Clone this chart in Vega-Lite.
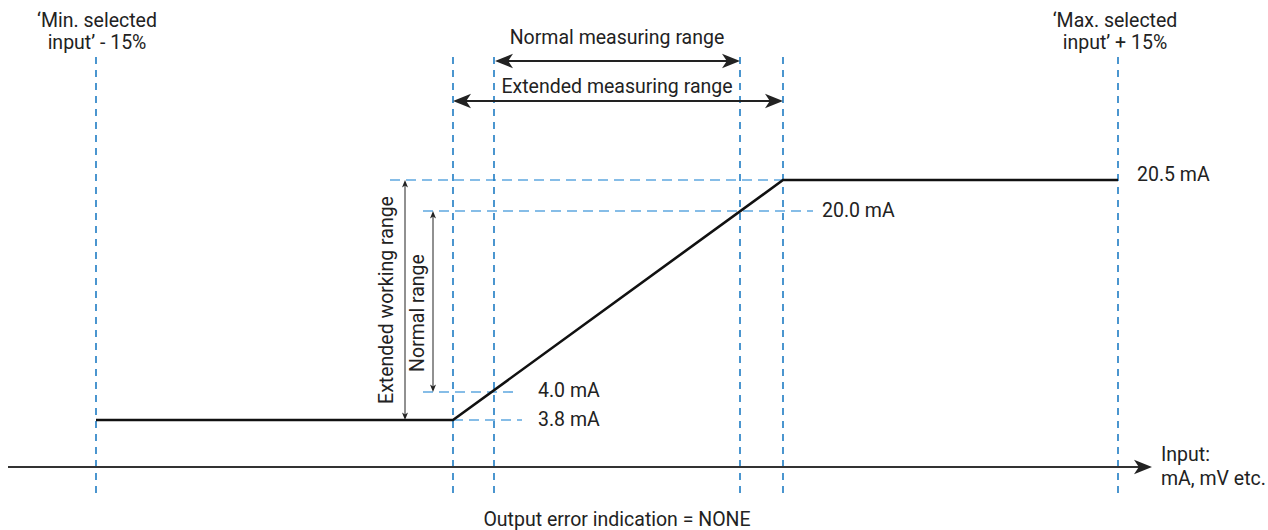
{
  "$schema": "https://vega.github.io/schema/vega-lite/v6.json",
  "width": 1268,
  "height": 530,
  "autosize": {"type": "fit", "contains": "padding"},
  "padding": 0,
  "background": "white",
  "config": {"view": {"stroke": null}},
  "datasets": {
    "vlines": [
      {"x": 96, "y": 57, "y2": 497},
      {"x": 453, "y": 57, "y2": 497},
      {"x": 494, "y": 57, "y2": 497},
      {"x": 740, "y": 57, "y2": 497},
      {"x": 783, "y": 57, "y2": 497},
      {"x": 1118, "y": 57, "y2": 497}
    ],
    "hlines": [
      {"x": 390, "x2": 783, "y": 180},
      {"x": 423, "x2": 813, "y": 211},
      {"x": 423, "x2": 518, "y": 392},
      {"x": 453, "x2": 522, "y": 420}
    ],
    "curve": [
      {"i": 1, "x": 96, "y": 420},
      {"i": 2, "x": 453, "y": 420},
      {"i": 3, "x": 783, "y": 180},
      {"i": 4, "x": 1118, "y": 180}
    ],
    "segments": [
      {"kind": "axis", "x": 8, "x2": 1140, "y": 467, "y2": 467},
      {"kind": "measure", "x": 498, "x2": 735, "y": 61, "y2": 61},
      {"kind": "measure", "x": 457, "x2": 778, "y": 101, "y2": 101},
      {"kind": "range", "x": 405, "x2": 405, "y": 184, "y2": 416},
      {"kind": "range", "x": 433, "x2": 433, "y": 215, "y2": 388}
    ],
    "heads": [
      {"kind": "big", "dir": "right", "x": 1152, "y": 467},
      {"kind": "big", "dir": "left", "x": 495, "y": 61},
      {"kind": "big", "dir": "right", "x": 740, "y": 61},
      {"kind": "big", "dir": "left", "x": 453, "y": 101},
      {"kind": "big", "dir": "right", "x": 783, "y": 101},
      {"kind": "small", "dir": "up", "x": 405, "y": 180},
      {"kind": "small", "dir": "down", "x": 405, "y": 420},
      {"kind": "small", "dir": "up", "x": 433, "y": 211},
      {"kind": "small", "dir": "down", "x": 433, "y": 392}
    ],
    "labels": [
      {"kind": "center", "x": 97, "y": 21, "text": "‘Min. selected"},
      {"kind": "center", "x": 97, "y": 43, "text": "input’ - 15%"},
      {"kind": "center", "x": 1115, "y": 21, "text": "‘Max. selected"},
      {"kind": "center", "x": 1115, "y": 43, "text": "input’ + 15%"},
      {"kind": "center", "x": 617, "y": 38, "text": "Normal measuring range"},
      {"kind": "center", "x": 617, "y": 87, "text": "Extended measuring range"},
      {"kind": "center", "x": 617, "y": 520, "text": "Output error indication = NONE"},
      {"kind": "left", "x": 1137, "y": 175, "text": "20.5 mA"},
      {"kind": "left", "x": 822, "y": 211, "text": "20.0 mA"},
      {"kind": "left", "x": 538, "y": 391, "text": "4.0 mA"},
      {"kind": "left", "x": 538, "y": 420, "text": "3.8 mA"},
      {"kind": "left", "x": 1161, "y": 455, "text": "Input:"},
      {"kind": "left", "x": 1161, "y": 479, "text": "mA, mV etc."},
      {"kind": "vertical", "x": 387, "y": 300, "text": "Extended working range"},
      {"kind": "vertical", "x": 418, "y": 313, "text": "Normal range"}
    ]
  },
  "encoding": {
    "x": {"field": "x", "type": "quantitative", "scale": {"domain": [0, 1268], "nice": false, "zero": false}, "axis": null},
    "y": {"field": "y", "type": "quantitative", "scale": {"domain": [0, 530], "nice": false, "zero": false, "reverse": true}, "axis": null}
  },
  "layer": [
    {
      "data": {"name": "hlines"},
      "mark": {"type": "rule", "color": "#5fa8e0", "strokeWidth": 1.6, "strokeDash": [10, 6]},
      "encoding": {"x2": {"field": "x2"}}
    },
    {
      "data": {"name": "vlines"},
      "mark": {"type": "rule", "color": "#1f7cc4", "strokeWidth": 1.6, "strokeDash": [7, 6]},
      "encoding": {"y2": {"field": "y2"}}
    },
    {
      "data": {"name": "curve"},
      "mark": {"type": "line", "color": "#111111", "strokeWidth": 2.6},
      "encoding": {"order": {"field": "i", "type": "quantitative"}}
    },
    {
      "data": {"name": "segments"},
      "transform": [{"filter": "datum.kind === 'axis'"}],
      "mark": {"type": "rule", "color": "#333333", "strokeWidth": 2.2},
      "encoding": {"x2": {"field": "x2"}, "y2": {"field": "y2"}}
    },
    {
      "data": {"name": "segments"},
      "transform": [{"filter": "datum.kind === 'measure'"}],
      "mark": {"type": "rule", "color": "#222222", "strokeWidth": 2},
      "encoding": {"x2": {"field": "x2"}, "y2": {"field": "y2"}}
    },
    {
      "data": {"name": "segments"},
      "transform": [{"filter": "datum.kind === 'range'"}],
      "mark": {"type": "rule", "color": "#222222", "strokeWidth": 1},
      "encoding": {"x2": {"field": "x2"}, "y2": {"field": "y2"}}
    },
    {
      "data": {"name": "heads"},
      "transform": [{"filter": "datum.kind === 'big'"}],
      "mark": {"type": "point", "filled": true, "color": "#222222", "size": 576, "opacity": 1, "strokeWidth": 0},
      "encoding": {
        "shape": {"field": "dir", "type": "nominal", "legend": null,
          "scale": {"domain": ["right", "left", "up", "down"],
            "range": ["M0,0L-1.5,-0.6L-1.1,0L-1.5,0.6Z", "M0,0L1.5,-0.6L1.1,0L1.5,0.6Z", "M0,0L-0.6,1.5L0,1.1L0.6,1.5Z", "M0,0L-0.6,-1.5L0,-1.1L0.6,-1.5Z"]}}
      }
    },
    {
      "data": {"name": "heads"},
      "transform": [{"filter": "datum.kind === 'small'"}],
      "mark": {"type": "point", "filled": true, "color": "#222222", "size": 100, "opacity": 1, "strokeWidth": 0},
      "encoding": {
        "shape": {"field": "dir", "type": "nominal", "legend": null,
          "scale": {"domain": ["right", "left", "up", "down"],
            "range": ["M0,0L-2.2,-0.6L-1.7,0L-2.2,0.6Z", "M0,0L2.2,-0.6L1.7,0L2.2,0.6Z", "M0,0L-0.6,2.2L0,1.7L0.6,2.2Z", "M0,0L-0.6,-2.2L0,-1.7L0.6,-2.2Z"]}}
      }
    },
    {
      "data": {"name": "labels"},
      "transform": [{"filter": "datum.kind === 'center'"}],
      "mark": {"type": "text", "align": "center", "baseline": "middle", "font": "Roboto", "fontSize": 19.5, "color": "#222222"},
      "encoding": {"text": {"field": "text"}}
    },
    {
      "data": {"name": "labels"},
      "transform": [{"filter": "datum.kind === 'left'"}],
      "mark": {"type": "text", "align": "left", "baseline": "middle", "font": "Roboto", "fontSize": 19.5, "color": "#222222"},
      "encoding": {"text": {"field": "text"}}
    },
    {
      "data": {"name": "labels"},
      "transform": [{"filter": "datum.kind === 'vertical'"}],
      "mark": {"type": "text", "align": "center", "baseline": "middle", "angle": 270, "font": "Roboto", "fontSize": 19.5, "color": "#222222"},
      "encoding": {"text": {"field": "text"}}
    }
  ]
}
